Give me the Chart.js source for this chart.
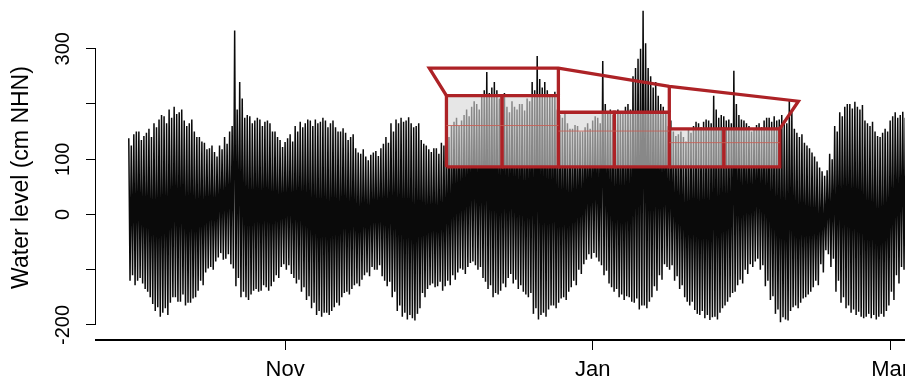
<!DOCTYPE html>
<html><head><meta charset="utf-8">
<script src="https://cdn.jsdelivr.net/npm/chart.js@4"></script>
<style>html,body{margin:0;padding:0;overflow:hidden;background:#fff}#wrap{position:relative;width:960px;height:382px}</style>
</head><body><div id="wrap"><canvas id="c"></canvas></div>
<script>
// Days are counted relative to 1 January; the record starts on 1 October.
const startDay = -92;
// Water levels (cm NHN) of the two daily tides.
const highWater = [138,145,150,142,155,165,172,178,190,195,185,170,165,150,140,130,120,113,125,140,
  150,333,240,175,178,170,172,168,165,150,135,131,145,160,168,165,170,172,168,170,
  165,158,150,148,140,120,110,105,108,115,120,140,165,172,175,170,165,160,135,125,
  113,120,130,150,160,175,170,190,195,200,215,258,230,225,210,195,205,190,200,210,
  240,287,230,225,215,190,175,165,155,160,150,165,170,175,278,185,180,190,185,200,
  250,282,369,265,230,215,195,160,150,145,140,155,160,165,168,170,215,175,178,172,
  260,180,170,160,155,165,170,175,178,172,170,209,155,140,130,120,105,85,70,110,
  160,185,195,200,204,190,170,160,150,140,155,170,185,180,175,165,150];
const lowWater = [-120,-128,-115,-135,-150,-175,-185,-170,-160,-150,-158,-165,-160,-150,-120,-105,-95,-85,-70,-80,
  -90,-130,-150,-150,-145,-135,-138,-132,-130,-110,-95,-100,-108,-125,-140,-155,-170,-182,-185,-178,
  -175,-160,-150,-140,-135,-125,-118,-105,-95,-100,-112,-130,-150,-175,-185,-190,-188,-180,-142,-135,
  -125,-130,-138,-120,-110,-105,-100,-95,-85,-100,-115,-135,-150,-145,-125,-115,-125,-135,-140,-150,
  -180,-190,-178,-172,-165,-160,-150,-140,-120,-100,-90,-72,-70,-85,-110,-125,-140,-150,-155,-150,
  -160,-172,-165,-158,-130,-110,-90,-100,-120,-135,-150,-165,-173,-182,-188,-191,-185,-178,-165,-150,
  -140,-118,-100,-90,-85,-100,-130,-155,-180,-195,-190,-175,-165,-160,-150,-140,-120,-90,-65,-95,
  -140,-160,-170,-178,-182,-185,-185,-188,-190,-180,-175,-140,-110,-95,-90,-100,-120];
const highWater2 = [125,150,135,148,140,158,180,165,175,182,190,160,172,140,132,118,125,105,118,128,
  160,190,210,180,165,175,160,170,150,140,122,138,132,150,158,172,160,165,175,158,
  170,150,156,135,145,112,118,98,112,106,128,130,150,165,168,176,158,165,128,118,
  120,110,125,140,168,160,180,178,205,190,225,220,240,210,220,185,195,200,188,205,
  225,245,240,215,222,180,185,155,162,150,158,155,178,165,200,190,172,185,195,190,
  265,300,310,250,240,200,185,170,142,150,132,148,168,158,172,165,190,180,170,165,
  200,172,165,150,162,158,175,168,170,180,165,185,148,145,125,112,96,78,80,100,
  150,178,200,192,195,198,165,168,142,148,150,178,175,186,168,158,145];
const lowWater2 = [-110,-120,-125,-140,-162,-168,-178,-182,-150,-158,-145,-160,-152,-138,-128,-98,-100,-78,-82,-72,
  -98,-115,-140,-155,-138,-140,-128,-138,-122,-115,-90,-92,-115,-118,-132,-148,-160,-175,-178,-182,
  -168,-165,-142,-145,-128,-130,-110,-112,-100,-92,-120,-122,-140,-165,-178,-182,-192,-170,-150,-128,
  -132,-122,-130,-128,-118,-98,-108,-88,-92,-95,-122,-128,-142,-138,-132,-108,-118,-128,-145,-142,
  -170,-182,-185,-165,-170,-152,-155,-132,-128,-108,-82,-80,-78,-92,-102,-132,-135,-145,-148,-158,
  -152,-165,-170,-150,-138,-118,-95,-92,-112,-128,-158,-158,-180,-175,-182,-186,-190,-170,-158,-142,
  -128,-125,-108,-95,-80,-92,-120,-148,-172,-186,-192,-168,-170,-152,-145,-132,-128,-105,-72,-80,
  -120,-150,-165,-172,-176,-188,-180,-182,-185,-185,-165,-155,-125,-100,-92,-95,-110];

const monthTickDays = [-61, 0, 59];
const monthTickLabels = ['Nov', 'Jan', 'Mar'];
const levelTicks = [-200, -100, 0, 100, 200, 300];
const levelTickLabels = ['-200', '', '0', '100', '', '300'];

// Red annotation boxes (days / cm NHN)
const cellEdgeDays = [-29, -18, -6.8, 4.3, 15.2, 26, 37.1];
const cellBottom = [86, 86, 86, 86, 86, 86];
const cellTop = [215, 215, 185, 185, 155, 155];
const cellMean = [161, 161, 151, 151, 130, 130];
const roofDays = [-29, -32.4, -6.8, 15.2, 40.8, 37.1];
const roofLevels = [215, 265, 265, 232, 205, 155];
const postDays = [-6.8, 15.2];
const postTop = [265, 232];
const postBottom = [215, 185];

const xMin = -98.5, xMax = 72.85;
const yMin = -227.3, yMax = 361.1;

const RED = '#ad2226';
const FONT = "'Liberation Sans', Arial, Helvetica, sans-serif";

const tidePoints = highWater.flatMap((h, i) => [
  {x: startDay + i, y: h},
  {x: startDay + i + 0.25, y: lowWater[i]},
  {x: startDay + i + 0.5, y: highWater2[i]},
  {x: startDay + i + 0.75, y: lowWater2[i]}
]);

const datasets = [{
  data: tidePoints, borderColor: '#0a0a0a', borderWidth: 1.5,
  pointRadius: 0, tension: 0, fill: false, order: 10, clip: false
}];

for (let k = 0; k < cellTop.length; k++) {
  const x0 = cellEdgeDays[k], x1 = cellEdgeDays[k + 1];
  datasets.push({
    data: [{x: x0, y: cellBottom[k]}, {x: x0, y: cellTop[k]}, {x: x1, y: cellTop[k]},
           {x: x1, y: cellBottom[k]}, {x: x0, y: cellBottom[k]}],
    borderColor: RED, borderWidth: 3.3, backgroundColor: 'rgba(214,214,214,0.62)',
    fill: 'shape', pointRadius: 0, tension: 0, order: 3
  });
  datasets.push({
    data: [{x: x0, y: cellMean[k]}, {x: x1, y: cellMean[k]}],
    borderColor: 'rgba(200,95,85,0.85)', borderWidth: 1, pointRadius: 0, fill: false, order: 2
  });
}
datasets.push({
  data: roofDays.map((d, i) => ({x: d, y: roofLevels[i]})),
  borderColor: RED, borderWidth: 3.3, pointRadius: 0, fill: false, tension: 0, order: 1
});
postDays.forEach((d, i) => datasets.push({
  data: [{x: d, y: postTop[i]}, {x: d, y: postBottom[i]}],
  borderColor: RED, borderWidth: 3.3, pointRadius: 0, fill: false, order: 1
}));

const yAxisLine = {
  id: 'yAxisLine',
  afterDraw(chart) {
    const ys = chart.scales.y, ctx = chart.ctx;
    const x = Math.round(chart.chartArea.left) - 0.5;
    ctx.save();
    ctx.strokeStyle = '#000'; ctx.lineWidth = 1;
    ctx.beginPath();
    ctx.moveTo(x, ys.getPixelForValue(levelTicks[levelTicks.length - 1]));
    ctx.lineTo(x, ys.getPixelForValue(levelTicks[0]));
    ctx.stroke();
    ctx.restore();
  }
};

new Chart(document.getElementById('c'), {
  type: 'line',
  data: {datasets},
  options: {
    responsive: true, maintainAspectRatio: false, animation: false, events: [],
    layout: {padding: 0},
    plugins: {legend: {display: false}, tooltip: {enabled: false}},
    scales: {
      x: {
        type: 'linear', min: xMin, max: xMax,
        afterBuildTicks: s => { s.ticks = monthTickDays.map(v => ({value: v})); },
        afterFit: s => { s.height = 42; },
        ticks: {
          autoSkip: false, maxRotation: 0, minRotation: 0, padding: 7, color: '#000',
          font: {family: FONT, size: 22},
          callback: v => { const k = monthTickDays.indexOf(v); return k < 0 ? null : monthTickLabels[k]; }
        },
        grid: {drawOnChartArea: false, drawTicks: true, tickLength: 10, color: '#000', lineWidth: 1},
        border: {display: true, color: '#000', width: 2}
      },
      y: {
        type: 'linear', min: yMin, max: yMax,
        afterBuildTicks: s => { s.ticks = [yMin, ...levelTicks, yMax].map(v => ({value: v})); },
        afterFit: s => { s.width = 96; },
        ticks: {
          autoSkip: false, minRotation: 90, maxRotation: 90, crossAlign: 'center', padding: 3,
          color: '#000', font: {family: FONT, size: 20},
          callback: v => { const k = levelTicks.indexOf(v); return k < 0 ? null : levelTickLabels[k]; }
        },
        grid: {drawOnChartArea: false, drawTicks: true, tickLength: 10, color: '#000', lineWidth: 1},
        border: {display: false},
        title: {display: true, text: 'Water level (cm NHN)', color: '#000',
                font: {family: FONT, size: 23}, padding: {top: 8, bottom: 0}}
      }
    }
  },
  plugins: [yAxisLine]
});
</script></body></html>
